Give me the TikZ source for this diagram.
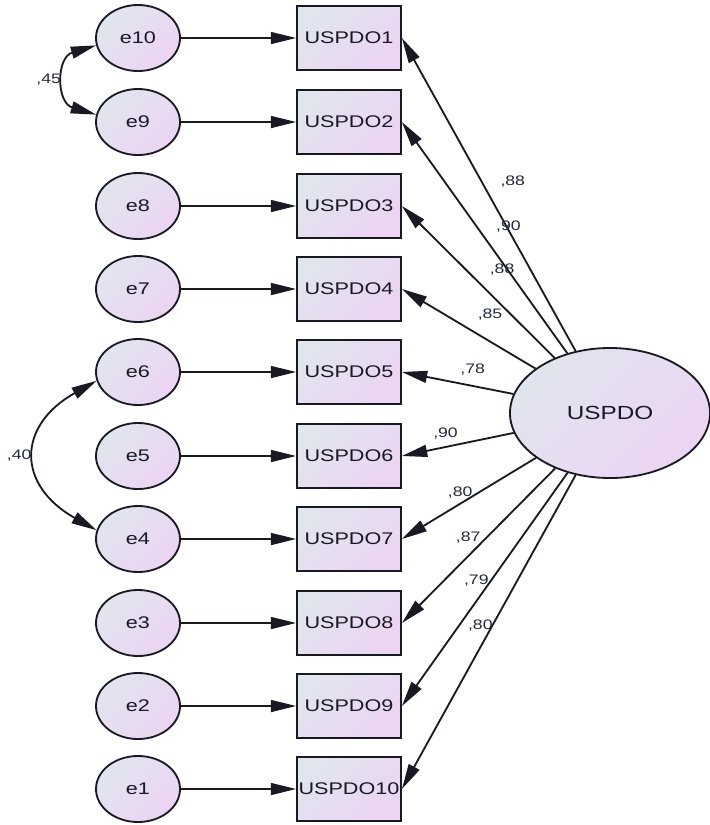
\documentclass[tikz,border=0pt]{standalone}
\usepackage{fontspec}
\setmainfont{Liberation Sans}[FakeStretch=1.28]
\usetikzlibrary{arrows.meta,shapes.geometric}
\definecolor{shadeA}{RGB}{225,229,238}
\definecolor{shadeB}{RGB}{236,212,243}
\definecolor{ink}{RGB}{25,25,35}
\definecolor{numink}{RGB}{35,40,65}
\tikzset{
  shaded/.style={draw=ink, line width=1.3pt, top color=shadeA, bottom color=shadeB, shading angle=45, text=ink},
  errnode/.style={shaded, ellipse, inner sep=0pt, minimum width=2.1cm, minimum height=1.65cm, font=\fontsize{12}{14}\selectfont},
  obsnode/.style={shaded, rectangle, inner sep=0pt, minimum width=2.6cm, minimum height=1.6cm, font=\fontsize{12}{14}\selectfont},
  latnode/.style={shaded, ellipse, inner sep=0pt, minimum width=5cm, minimum height=3.25cm, font=\fontsize{13.5}{15}\selectfont},
  arr/.style={-{Triangle[length=18pt,width=8.5pt]}, line width=1.3pt, draw=ink},
  cov/.style={{Triangle[length=18pt,width=8.5pt]}-{Triangle[length=18pt,width=8.5pt]}, line width=1.3pt, draw=ink},
  coef/.style={font=\fontsize{9.8}{11}\selectfont, text=numink, inner sep=1pt}
}
\begin{document}
\begin{tikzpicture}[x=0.025cm, y=-0.025cm]
\useasboundingbox (0,0) rectangle (710,825);
% error terms and indicators
\foreach \i/\y in {1/38,2/122,3/206,4/289,5/372,6/456,7/539,8/623,9/706,10/789} {
  \pgfmathtruncatemacro{\e}{11-\i}
  \node[errnode] (e\e) at (138,\y) {e\e};
  \node[obsnode] (u\i) at (349,\y) {USPDO\i};
  \draw[arr] (e\e) -- (u\i);
}
% latent factor
\node[latnode] (lat) at (610,413) {USPDO};
% loadings
\foreach \i/\p/\dx/\dy/\v in {1/.54/22/0/88, 2/.55/22.8/0/90, 3/.58/25.6/0/88, 4/.34/0/19.2/85, 5/.365/0/11.4/78,
    6/.61/0/9.2/90, 7/.565/0/7.8/80, 8/.45/-12.8/0/87, 9/.46/-10.7/0/79, 10/.48/-8.5/0/80}
  \draw[arr] (lat) -- (u\i.east) node[coef, pos=\p, xshift=\dx pt, yshift=\dy pt] {,\v};
% correlated errors
\draw[cov] (e10.190) .. controls +(-40,12) and +(-40,-12) .. (e9.170) node[coef, midway, left, inner sep=3pt] {,45};
\draw[cov] (e6.192) .. controls +(-80,45) and +(-80,-45) .. (e4.168) node[coef, midway, left, inner sep=3pt] {,40};
\end{tikzpicture}
\end{document}
